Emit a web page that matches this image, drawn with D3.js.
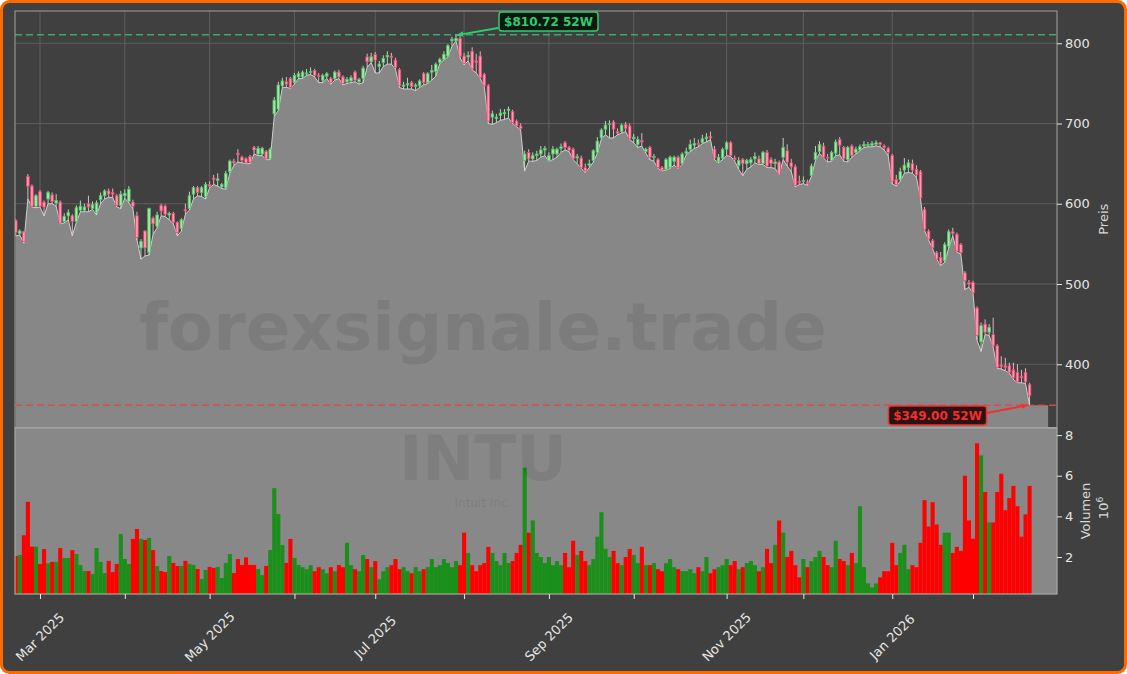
<!DOCTYPE html>
<html><head><meta charset="utf-8">
<script src="https://cdn.jsdelivr.net/npm/d3@7"></script>
<style>html,body{margin:0;padding:0;background:#ffffff;}svg{display:block;font-family:"DejaVu Sans",sans-serif;}</style>
</head><body><svg id="c" width="1127" height="674"></svg>
<script>
// ---- data (trading-day index based) ----
const opens = [579,563,565,634,622,597,615,602,606,611,601,602,578,585,585,578,592,592,600,594,589,605,610,616,614,610,598,610,603,602,585,545,566,539,582,572,598,597,586,588,577,569,593,594,612,620,614,609,624,632,629,621,620,640,653,663,658,656,659,670,662,662,665,656,712,718,747,752,756,751,758,758,762,764,766,760,754,759,756,756,764,758,752,753,764,752,756,783,777,786,771,776,783,784,779,767,746,748,751,746,747,762,751,764,765,776,780,784,803,803,806,784,783,790,778,784,761,747,708,706,710,712,716,715,703,697,654,664,656,660,662,667,654,662,662,669,676,670,668,657,657,645,648,654,664,682,693,699,702,690,690,699,697,681,674,679,665,670,658,655,645,643,645,653,658,650,663,668,673,675,676,681,684,668,653,657,668,676,657,648,655,650,651,656,656,650,664,655,650,652,658,666,651,646,628,628,627,635,655,665,672,658,654,663,680,670,655,672,664,667,672,673,673,674,676,672,669,660,630,630,642,645,650,643,640,593,566,554,539,533,529,547,565,562,549,514,502,502,470,428,450,440,437,423,399,398,398,393,390,385,390,375];
const highs = [581,568,566,637,624,612,617,604,616,614,612,604,588,593,587,598,604,600,610,603,604,614,618,619,619,612,616,618,622,605,590,556,567,595,584,590,600,599,590,590,578,582,600,615,622,622,622,627,628,636,638,626,641,655,656,668,660,658,661,672,672,671,667,670,733,752,757,758,758,763,765,766,768,770,768,763,762,764,758,766,767,760,758,760,766,757,772,787,788,789,778,785,790,788,782,769,752,757,753,750,755,764,764,773,776,782,790,799,808,810.72,809,788,790,795,787,790,763,749,716,712,718,718,721,717,705,700,666,668,664,666,672,672,664,672,670,675,678,672,670,662,660,650,655,668,683,694,703,704,704,694,700,702,700,687,684,688,670,672,662,657,647,657,660,660,660,664,670,680,682,680,686,688,690,672,662,670,678,678,660,658,657,656,658,664,660,666,667,658,656,654,682,674,656,649,635,634,630,650,672,678,676,662,666,680,683,672,672,674,671,674,678,677,678,679,677,674,671,662,636,645,657,655,655,648,642,596,568,556,541,540,552,568,570,564,551,516,505,504,472,452,456,450,458,425,410,408,402,402,400,393,395,377];
const lows = [560,561,551,606,596,595,596,585,600,600,597,575,576,580,560,577,590,590,590,593,586,600,606,608,608,596,594,607,601,594,555,531,535,536,562,570,585,584,580,575,560,566,587,592,606,610,609,606,620,624,622,619,618,638,648,652,651,650,650,662,660,660,655,655,709,716,745,745,744,749,756,756,760,761,758,751,751,756,749,754,756,748,750,751,752,749,751,770,776,763,763,771,774,774,768,745,743,743,743,741,745,748,750,754,759,775,779,783,796,803,782,773,778,767,763,756,746,700,699,701,704,705,707,700,696,692,641,653,653,654,658,660,653,655,658,664,667,665,655,650,644,639,645,652,663,681,686,682,682,686,688,690,680,676,670,672,663,655,653,644,641,642,644,648,644,649,661,665,669,671,675,677,680,655,651,655,660,659,653,643,635,643,646,651,649,649,645,645,644,636,655,647,640,621,624,625,623,634,654,663,657,652,653,660,661,653,652,658,662,666,670,671,671,672,671,667,660,625,622,628,638,639,638,633,606,567,555,544,531,523,527,545,560,540,537,493,496,489,430,416,437,436,421,395,394,392,389,381,377,377,376,349];
const closes = [564,566,553,622,597,610,597,596,614,603,604,576,584,589,578,595,597,596,596,599,601,610,616,612,612,598,612,613,618,597,558,553,545,594,575,586,591,587,588,577,564,580,591,610,620,614,620,624,622,630,631,624,638,653,651,661,654,651,652,667,669,669,656,668,729,748,753,749,745,760,762,764,763,765,760,759,760,762,751,764,758,750,755,757,754,755,769,777,783,779,774,781,785,782,770,747,748,750,746,748,753,751,762,766,774,780,786,797,805,806,784,775,785,768,776,757,747,703,712,708,713,714,718,701,697,694,662,656,660,662,667,669,660,668,668,671,670,667,656,659,645,641,650,666,678,692,698,700,693,688,698,694,681,683,680,677,668,658,659,645,642,655,658,658,645,662,665,674,675,674,681,683,682,657,658,668,676,660,655,654,650,654,655,659,650,664,647,650,652,637,670,652,646,623,626,629,625,647,664,674,658,657,664,677,673,656,670,660,668,671,674,674,675,676,674,670,664,628,624,640,648,651,642,636,607,568,556,545,531,526,549,565,563,541,539,504,500,489,436,448,440,446,423,396,397,396,390,383,378,383,378,361];
const volumes = [2.05,2.10,3.07,4.72,2.51,2.51,1.66,2.39,1.69,1.76,1.76,2.44,1.95,1.95,2.34,2.15,1.61,1.31,1.31,1.16,2.44,1.76,1.21,1.81,1.26,1.66,3.13,1.90,1.66,2.89,3.38,2.89,2.84,2.94,2.34,1.56,1.31,1.26,2.05,1.71,1.56,1.56,1.81,1.66,1.61,1.41,0.92,1.36,1.51,1.46,1.51,0.97,1.71,2.15,1.21,1.90,1.61,1.98,1.61,1.61,1.41,1.11,1.56,2.34,5.39,4.12,2.59,1.71,2.89,1.95,1.61,1.5,1.4,1.6,1.3,1.5,1.4,1.2,1.5,1.3,1.6,1.5,2.7,1.6,1.4,1.3,2.1,1.9,1.5,1.8,0.9,1.3,1.5,1.6,1.9,1.4,1.5,1.3,1.2,1.5,1.3,1.4,1.5,1.9,1.5,1.6,1.9,1.7,1.5,1.8,1.6,3.2,2.2,1.6,1.3,1.6,1.7,2.5,2.2,1.8,1.6,2.2,1.7,1.8,2.2,2.6,6.4,3.2,3.8,2.2,2.0,1.7,2.0,1.6,1.8,1.6,2.2,1.5,2.8,2.1,2.3,1.8,1.6,1.9,3.0,4.2,2.4,2.0,2.3,1.7,1.6,2.0,2.4,2.1,1.7,2.5,1.6,1.6,1.7,1.4,1.3,1.7,1.9,1.5,1.4,1.3,1.3,1.4,1.2,1.5,1.3,2.0,1.2,1.4,1.5,1.6,1.9,1.6,1.8,1.4,1.5,1.7,1.8,1.6,1.3,1.5,2.4,1.7,2.6,3.8,3.2,2.0,2.3,1.6,1.0,1.9,1.5,1.8,2.0,2.3,2.0,1.6,1.5,2.8,1.9,1.8,1.6,2.2,1.7,4.5,1.5,0.7,0.5,0.7,1.0,1.3,1.3,2.7,1.6,2.2,2.6,1.4,1.6,1.5,2.7,4.8,3.5,4.7,3.6,2.6,3.2,3.2,2.2,2.5,2.3,6.0,3.8,2.9,7.6,7.0,5.2,3.7,3.7,5.2,6.1,4.3,4.9,5.5,4.5,3.0,4.1,5.5];
const monthTickIdx = [6,27,48,69,89,111,132,153,176,195,217,237];
const monthTickLabels = ["Mar 2025","","May 2025","","Jul 2025","","Sep 2025","","Nov 2025","","Jan 2026",""];
const priceTicks = [400,500,600,700,800];
const volumeTicks = [2,4,6,8];
const ticker = "INTU", company = "Intuit Inc.", brand = "forexsignale.trade";

// ---- layout ----
const W=1127,H=674;
const L=15,R=1057,PT=11,PB=427.5,VT=428,VB=594;
const N = closes.length;
const svg = d3.select("#c");
const x = d3.scaleLinear().domain([-0.19,257.8]).range([L,R]);
const yP = d3.scaleLinear().domain([321.2,840.2]).range([PB,PT]);
const yV = d3.scaleLinear().domain([0.18,8.35]).range([VB,VT]);
const step = x(1)-x(0);

svg.append("rect").attr("x",1.5).attr("y",1.5).attr("width",W-3).attr("height",H-3).attr("rx",8)
  .attr("fill","#404040").attr("stroke","#ff6a00").attr("stroke-width",3);

const defs = svg.append("defs");
defs.append("clipPath").attr("id","pclip").append("rect").attr("x",L).attr("y",PT).attr("width",R-L).attr("height",PB-PT);
defs.append("clipPath").attr("id","vclip").append("rect").attr("x",L).attr("y",VT).attr("width",R-L).attr("height",VB-VT);
function marker(id,color){
  defs.append("marker").attr("id",id).attr("viewBox","0 0 10 10").attr("refX",9).attr("refY",5)
   .attr("markerWidth",7).attr("markerHeight",7).attr("orient","auto-start-reverse").attr("markerUnits","userSpaceOnUse")
   .append("path").attr("d","M0,1 L10,5 L0,9 z").attr("fill",color);
}
marker("ag","#2ecc71"); marker("ar","#f03030");

// ---- price panel ----
const gp = svg.append("g").attr("clip-path","url(#pclip)");
gp.append("rect").attr("x",L).attr("y",PT).attr("width",R-L).attr("height",PB-PT).attr("fill","#404040");
gp.selectAll("line.vg").data(monthTickIdx).join("line").attr("x1",d=>x(d)).attr("x2",d=>x(d)).attr("y1",PT).attr("y2",PB)
  .attr("stroke","#5e5e5e").attr("stroke-width",1);
gp.selectAll("line.hg").data(priceTicks).join("line").attr("x1",L).attr("x2",R).attr("y1",d=>yP(d)).attr("y2",d=>yP(d))
  .attr("stroke","#5e5e5e").attr("stroke-width",1);

const idx = d3.range(N);
const areaIdx = idx.concat([N-1+4.6]);
const lowAt = i => lows[Math.min(Math.round(i),N-1)];
const area = d3.area().x(i=>x(i)).y0(PB).y1(i=>yP(lowAt(i)));
gp.append("path").datum(areaIdx).attr("d",area).attr("fill","#878787");
gp.append("path").datum(idx).attr("d",d3.line().x(i=>x(i)).y(i=>yP(lows[i]))).attr("fill","none").attr("stroke","#cfcfcf").attr("stroke-width",1);

// watermark brand
svg.append("text").attr("x",483).attr("y",350).attr("text-anchor","middle").attr("font-size",66).attr("font-weight","bold")
  .attr("fill","#000").attr("fill-opacity",0.075).text(brand);

// 52W lines
const hi = d3.max(highs), lo = d3.min(lows);
const hiI = highs.indexOf(hi), loI = lows.indexOf(lo);
gp.append("line").attr("x1",L).attr("x2",R).attr("y1",yP(hi)).attr("y2",yP(hi)).attr("stroke","#3cb371").attr("stroke-width",1.5).attr("stroke-dasharray","7,4").attr("opacity",0.9);
gp.append("line").attr("x1",L).attr("x2",R).attr("y1",yP(lo)).attr("y2",yP(lo)).attr("stroke","#e04848").attr("stroke-width",1.5).attr("stroke-dasharray","7,4").attr("opacity",0.9);

// candles
const cg = gp.append("g");
const up = i => closes[i] >= opens[i];
cg.selectAll("line.w").data(idx).join("line").attr("x1",i=>x(i)).attr("x2",i=>x(i))
  .attr("y1",i=>yP(highs[i])).attr("y2",i=>yP(lows[i]))
  .attr("stroke",i=>up(i)?"#c4e8c4":"#f0c4d0").attr("stroke-width",0.9);
cg.selectAll("rect.b").data(idx).join("rect")
  .attr("x",i=>x(i)-1.3).attr("width",2.6)
  .attr("y",i=>yP(Math.max(opens[i],closes[i])))
  .attr("height",i=>Math.max(1,Math.abs(yP(opens[i])-yP(closes[i]))))
  .attr("fill",i=>up(i)?"#a8e6a8":"#ff9ab2")
  .attr("stroke",i=>up(i)?"#4cc46a":"#e8486e").attr("stroke-width",0.8);

// price spine
svg.append("rect").attr("x",L).attr("y",PT).attr("width",R-L).attr("height",PB-PT).attr("fill","none").attr("stroke","#a0a0a0").attr("stroke-width",1);

// ---- volume panel ----
const gv = svg.append("g").attr("clip-path","url(#vclip)");
gv.append("rect").attr("x",L).attr("y",VT).attr("width",R-L).attr("height",VB-VT).attr("fill","#888888");
svg.append("text").attr("x",483).attr("y",480).attr("text-anchor","middle").attr("font-size",62).attr("font-weight","bold")
  .attr("fill","#000").attr("fill-opacity",0.07).text(ticker);
svg.append("text").attr("x",483).attr("y",507).attr("text-anchor","middle").attr("font-size",12)
  .attr("fill","#000").attr("fill-opacity",0.09).text(company);
gv.selectAll("rect.v").data(idx).join("rect")
  .attr("x",i=>x(i)-step/2).attr("width",step+0.05)
  .attr("y",i=>yV(volumes[i])).attr("height",i=>VB-yV(volumes[i]))
  .attr("fill",i=>up(i)?"#1a8f1a":"#ff0000");
svg.append("rect").attr("x",L).attr("y",VT).attr("width",R-L).attr("height",VB-VT).attr("fill","none").attr("stroke","#a8a8a8").attr("stroke-width",1.2);

// ---- axes ----
const axisColor = "#e6e6e6";
const ay = svg.append("g").attr("transform",`translate(${R},0)`).call(d3.axisRight(yP).tickValues(priceTicks).tickSize(5).tickPadding(3));
const av = svg.append("g").attr("transform",`translate(${R},0)`).call(d3.axisRight(yV).tickValues(volumeTicks).tickSize(5).tickPadding(3));
const ax = svg.append("g").attr("transform",`translate(0,${VB})`).call(d3.axisBottom(x).tickValues(monthTickIdx).tickFormat(()=>"").tickSize(5));
[ay,av,ax].forEach(g=>{g.select(".domain").remove();g.selectAll("line").attr("stroke",axisColor);
  g.selectAll("text").attr("fill",axisColor).attr("font-size",13).attr("font-family","DejaVu Sans");});
svg.selectAll("text.xl").data(monthTickIdx.map((d,k)=>[d,monthTickLabels[k]]).filter(d=>d[1])).join("text")
  .attr("transform",d=>`translate(${x(d[0])},637) rotate(-45)`).attr("text-anchor","middle").attr("dominant-baseline","central")
  .attr("fill",axisColor).attr("font-size",13).text(d=>d[1]);

svg.append("text").attr("transform",`translate(1108,${(PT+PB)/2}) rotate(-90)`).attr("text-anchor","middle")
  .attr("fill","#d8d8d8").attr("font-size",13).text("Preis");
svg.append("text").attr("transform",`translate(1090,${(VT+VB)/2}) rotate(-90)`).attr("text-anchor","middle")
  .attr("fill","#d8d8d8").attr("font-size",13).text("Volumen");
const t6 = svg.append("text").attr("transform",`translate(1108,${(VT+VB)/2-3}) rotate(-90)`).attr("text-anchor","middle")
  .attr("fill","#d8d8d8").attr("font-size",13);
t6.append("tspan").text("10");
t6.append("tspan").attr("dy",-5).attr("font-size",9).text("6");

// ---- annotations ----
function annotate(px,py,bx,by,bw,bh,txt,col,fill,mk,ax1,ay1){
  svg.append("line").attr("x1",ax1).attr("y1",ay1).attr("x2",px).attr("y2",py).attr("stroke",col).attr("stroke-width",1.8).attr("marker-end",`url(#${mk})`);
  svg.append("rect").attr("x",bx).attr("y",by).attr("width",bw).attr("height",bh).attr("rx",3)
    .attr("fill",fill).attr("fill-opacity",0.92).attr("stroke",col).attr("stroke-width",1.5);
  svg.append("text").attr("x",bx+bw/2).attr("y",by+bh/2+0.5).attr("text-anchor","middle").attr("dominant-baseline","central")
    .attr("font-size",12).attr("font-weight","bold").attr("fill",col).text(txt);
}
annotate(x(hiI)+1,yP(hi)+0.5, x(hiI)+43,12,99,19, `$${hi.toFixed(2)} 52W`, "#2ecc71","#08140c","ag", x(hiI)+42,28);
annotate(x(loI)-2,yP(lo), x(loI)-141,406,98,19, `$${lo.toFixed(2)} 52W`, "#f03030","#240808","ar", x(loI)-43,413);
</script></body></html>
